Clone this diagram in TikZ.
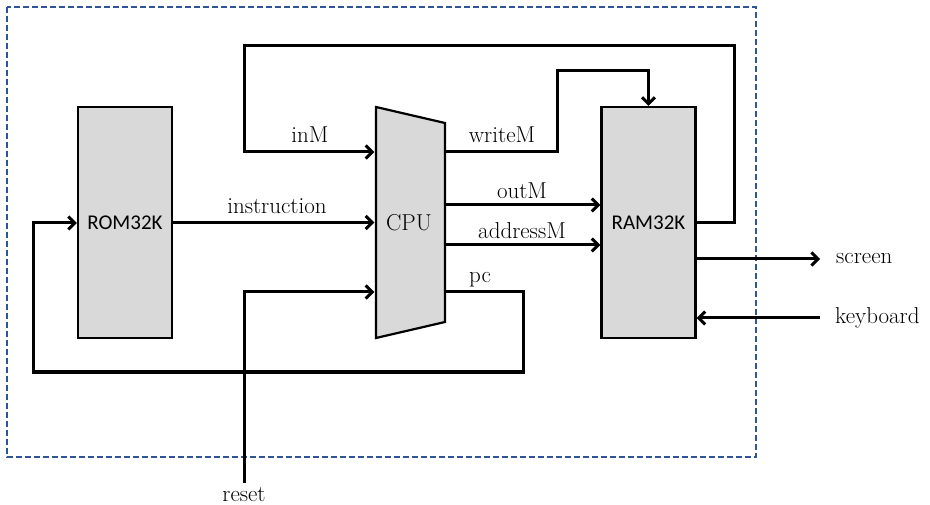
\documentclass[tikz,border=0pt]{standalone}
\usepackage{fontspec}
\newfontfamily\calibri{Carlito}
\usetikzlibrary{arrows.meta,calc}
\definecolor{boxgray}{HTML}{D9D9D9}
\definecolor{frameblue}{HTML}{2F5597}
\begin{document}
\begin{tikzpicture}[x=1pt,y=-1pt,
  chip/.style={draw=black,line width=2.2pt,fill=boxgray,minimum width=94pt,minimum height=231pt,inner sep=0pt,font=\calibri\fontsize{21}{25}\selectfont},
  wire/.style={line width=3pt,line join=miter},
  arr/.style={wire,-{Straight Barb[length=6.5pt,width=13pt,line width=3pt]}},
  serif/.style={font=\fontsize{23}{27}\selectfont},
  lbl/.style={serif,anchor=base,inner sep=0pt},
  frame/.style={draw=frameblue,line width=1.7pt,dash pattern=on 6pt off 3pt}]
\useasboundingbox (0,0) rectangle (930,505);
% frame
\draw[frame] (7,7) rectangle (756,457);
% chips
\node[chip] (rom) at (125,222.5) {ROM32K};
\node[chip] (ram) at (648.5,222.5) {RAM32K};
\filldraw[draw=black,fill=boxgray,line width=2.2pt,line join=miter] (376,107) -- (445,123) -- (445,322) -- (376,338) -- cycle;
\node[serif,inner sep=0pt,minimum width=69pt,minimum height=231pt] (cpu) at (409,222.5) {CPU};
% labels
\node[lbl] (linM) at (310,143) {inM};
\node[lbl] (linstr) at (277,214) {instruction};
\node[lbl] (lwrite) at (502,143) {writeM};
\node[lbl] (lout) at (522,199) {outM};
\node[lbl] (laddr) at (522,239) {addressM};
\node[lbl] (lpc) at (480,283) {pc};
\node[lbl] (lreset) at (244,501) {reset};
\node[serif,inner sep=0pt,anchor=west] (screen) at (836,259) {screen};
\node[serif,inner sep=0pt,anchor=west] (keyb) at (835,318) {keyboard};
\coordinate (rtop) at (244,483);
% wires
\draw[arr] (rom.east) -- (cpu.west |- rom.east);
\draw[arr] (ram.east) -- (734,222.5) -- (734,46) -- (244,46) -- (244,152) -- (cpu.west |- 0,152);
\draw[arr] (cpu.east |- 0,152) -- (557,152) -- (557,71) -- (ram.north |- 0,71) -- (ram.north);
\draw[arr] (cpu.east |- 0,205) -- (ram.west |- 0,205);
\draw[arr] (cpu.east |- 0,245) -- (ram.west |- 0,245);
\draw[arr] (cpu.east |- 0,292) -- (523,292) -- (523,372) -- (33,372) -- (33,223) -- (rom.west |- 0,223);
\draw[arr] (rtop) -- (244,292) -- (cpu.west |- 0,292);
\draw[arr] (ram.east |- screen.west) -- ([xshift=-16pt]screen.west);
\draw[arr] ([xshift=-15pt]keyb.west) -- (ram.east |- keyb.west);
\end{tikzpicture}
\end{document}
